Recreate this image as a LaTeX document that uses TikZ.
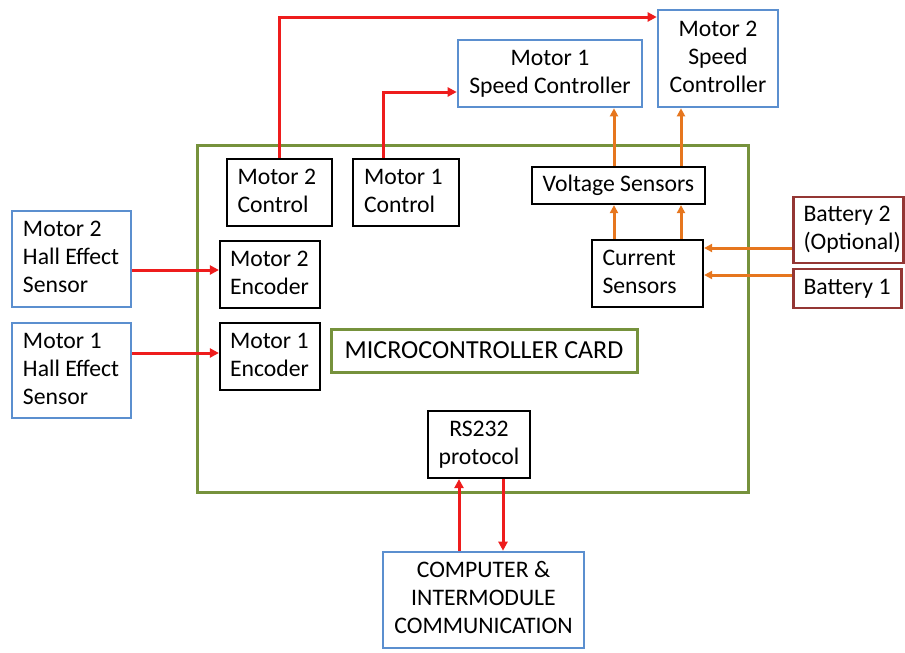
\documentclass[tikz,border=0pt]{standalone}
\usepackage{fontspec}
\setmainfont{Carlito}
\usetikzlibrary{arrows.meta}
\definecolor{sigred}{HTML}{EE1C1C}
\definecolor{pwrorange}{HTML}{E6761E}
\definecolor{extblue}{HTML}{5B8FCF}
\definecolor{cardgreen}{HTML}{76923C}
\definecolor{batred}{HTML}{943634}
% text blocks: left-aligned column of a given width, or centred lines
\newcommand{\leftlines}[2]{\begin{tabular}{@{}p{#1}@{}}#2\end{tabular}}
\newcommand{\midlines}[1]{\begin{tabular}{@{}c@{}}#1\end{tabular}}
\tikzset{
  base/.style={draw, fill=white, line width=2.2pt, inner sep=0pt, font=\fontsize{23.7}{28}\selectfont},
  blk/.style={base, draw=black},
  ext/.style={base, draw=extblue, line width=2.6pt},
  bat/.style={base, draw=batred, line width=2.8pt},
  sig/.style={draw=sigred, line width=3pt, -{Triangle[length=9pt,width=9pt]}},
  pwr/.style={draw=pwrorange, line width=3pt, -{Triangle[length=8pt,width=8pt]}},
}
\begin{document}
\begin{tikzpicture}[x=1pt,y=-1pt]
\useasboundingbox (0,0) rectangle (905,653);

% microcontroller card outline
\draw[cardgreen, line width=3pt] (197,145) rectangle (748,492);

% routing points for the connectors
\coordinate (m2turn) at (279.5,17);
\coordinate (m1turn) at (383,92);
\coordinate (legA) at (614,0);
\coordinate (legB) at (681,0);
\coordinate (b2row) at (0,248);
\coordinate (b1row) at (0,275);
\coordinate (h2row) at (0,270);
\coordinate (h1row) at (0,353);
\coordinate (upcol) at (459,0);
\coordinate (dncol) at (503,0);

% external modules
\node[ext, minimum width=119pt, minimum height=96pt] (hall2) at (71.5,259) {\leftlines{97pt}{Motor 2\\Hall Effect\\Sensor}};
\node[ext, minimum width=119pt, minimum height=95pt] (hall1) at (71.5,370.5) {\leftlines{97pt}{Motor 1\\Hall Effect\\Sensor}};
\node[ext, minimum width=184pt, minimum height=67pt] (sc1) at (550,73.5) {\midlines{Motor 1\\Speed Controller}};
\node[ext, minimum width=120pt, minimum height=97pt] (sc2) at (718,58.5) {\midlines{Motor 2\\Speed\\Controller}};
\node[ext, minimum width=201pt, minimum height=96pt] (comp) at (483.5,600) {\midlines{COMPUTER \&\\INTERMODULE\\COMMUNICATION}};
\node[bat, minimum width=110pt, minimum height=66pt] (bat2) at (848.5,230) {\leftlines{90pt}{Battery 2\\(Optional)}};
\node[bat, minimum width=108pt, minimum height=39pt] (bat1) at (847.5,288.5) {\leftlines{88pt}{Battery 1}};

% blocks on the card
\node[blk, minimum width=105pt, minimum height=67pt] (ctl2) at (279.5,192.5) {\leftlines{84pt}{Motor 2\\Control}};
\node[blk, minimum width=106pt, minimum height=67pt] (ctl1) at (406,192.5) {\leftlines{84pt}{Motor 1\\Control}};
\node[blk, minimum width=100pt, minimum height=67pt] (enc2) at (270,274.5) {\leftlines{80pt}{Motor 2\\Encoder}};
\node[blk, minimum width=100pt, minimum height=67pt] (enc1) at (270,356.5) {\leftlines{80pt}{Motor 1\\Encoder}};
\node[blk, minimum width=173pt, minimum height=37pt] (volt) at (618.5,185.5) {Voltage Sensors};
\node[blk, minimum width=111pt, minimum height=67pt] (curr) at (647.5,273.5) {\leftlines{90pt}{Current\\Sensors}};
\node[blk, minimum width=102pt, minimum height=67pt] (rs) at (479,444.5) {\midlines{RS232\\protocol}};
\node[base, draw=cardgreen, line width=3pt, minimum width=306pt, minimum height=43pt, font=\fontsize{26}{30}\selectfont] (mcu) at (484,350.5) {MICROCONTROLLER CARD};

% control signals
\draw[sig] (ctl2.north) -- (m2turn) -- (m2turn -| sc2.west);
\draw[sig] (m1turn |- ctl1.north) -- (m1turn) -- (m1turn -| sc1.west);
\draw[sig] (h2row -| hall2.east) -- (h2row -| enc2.west);
\draw[sig] (h1row -| hall1.east) -- (h1row -| enc1.west);
\draw[sig] (upcol |- comp.north) -- (upcol |- rs.south);
\draw[sig] (dncol |- rs.south) -- (dncol |- comp.north);

% power path
\draw[pwr] (legA |- volt.north) -- (legA |- sc1.south);
\draw[pwr] (legB |- volt.north) -- (legB |- sc2.south);
\draw[pwr] (legA |- curr.north) -- (legA |- volt.south);
\draw[pwr] (legB |- curr.north) -- (legB |- volt.south);
\draw[pwr] (b2row -| bat2.west) -- (b2row -| curr.east);
\draw[pwr] (b1row -| bat1.west) -- (b1row -| curr.east);
\end{tikzpicture}
\end{document}
